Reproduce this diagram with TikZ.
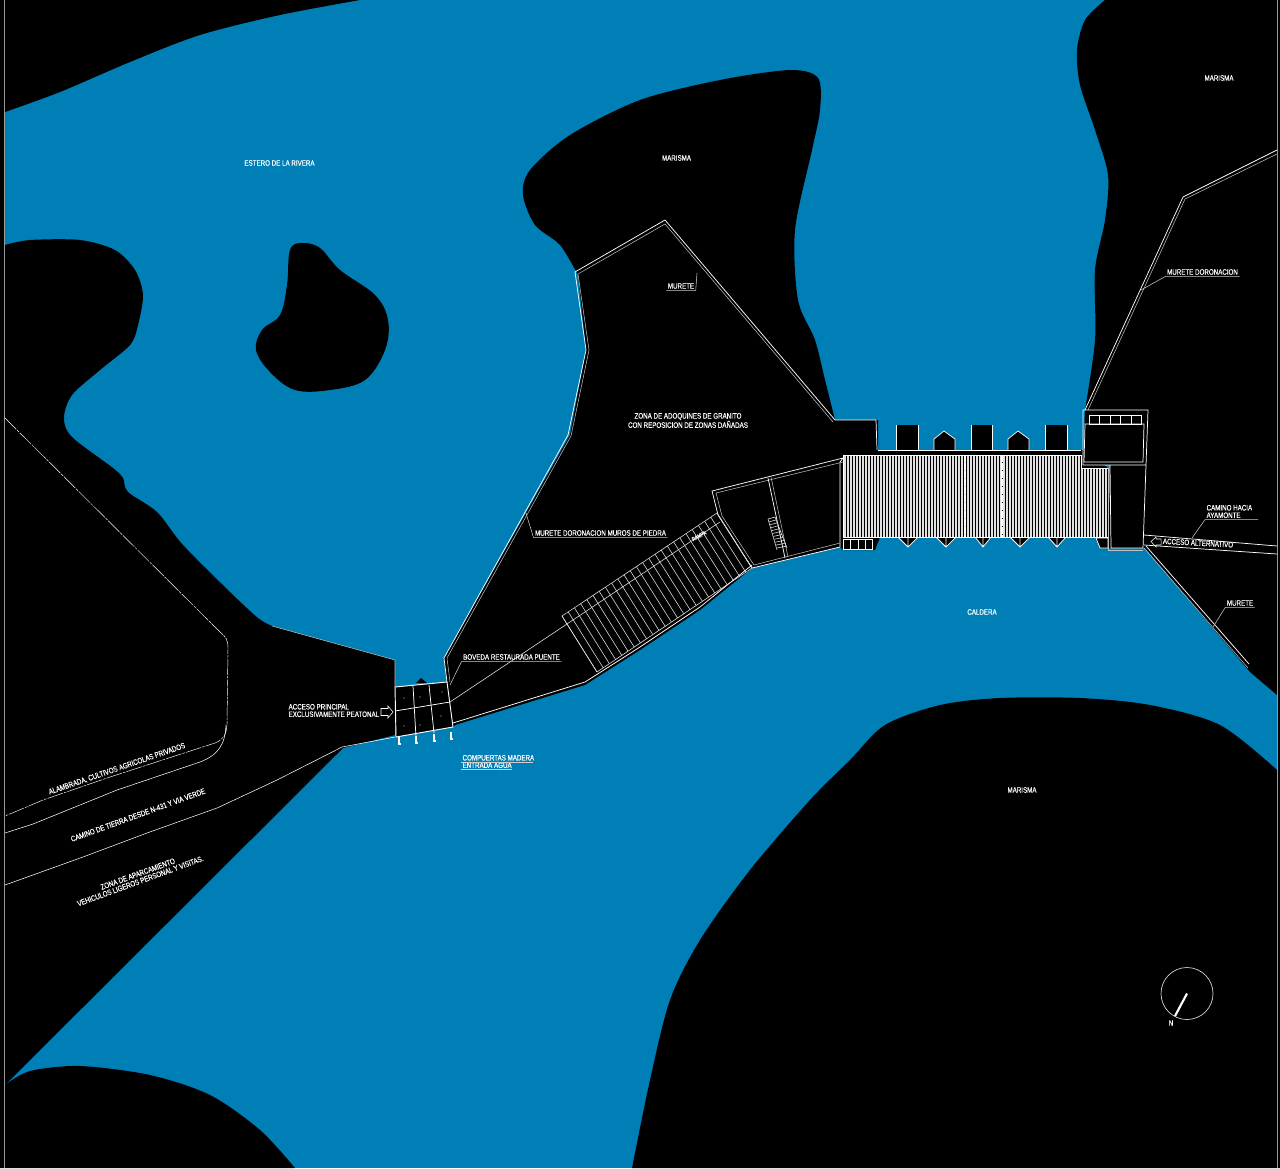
\documentclass[tikz,border=0pt]{standalone}
\usepackage{fontspec}
\usetikzlibrary{calc}
\newfontfamily\cadfont[FakeStretch=0.79,FakeBold=0.3]{Liberation Sans}
\definecolor{ria}{HTML}{007FB7}
\tikzset{
	land/.style={fill=black},
	wall/.style={draw=white,line width=0.55pt},
	thinwall/.style={draw=white!75!black,line width=0.4pt},
	leader/.style={draw=white!80!black,line width=0.4pt},
	cad/.style={text=white,font=\cadfont\fontsize{5.9}{6}\selectfont,inner sep=1pt,align=center},
	slat/.style={draw=white!88!black,line width=1.05pt},
	rung/.style={draw=white!85!black,line width=0.45pt},
}
\begin{document}
\begin{tikzpicture}[x=0.75pt,y=-0.75pt]
\useasboundingbox (0,0) rectangle (1280,1168);
\fill[black] (0,0) rectangle (1280,1168);
\fill[ria] (5,0) rectangle (1277,1168);
% land
\fill[land] plot[smooth,tension=.5] coordinates {(5,112) (60,92) (130,62) (200,35) (280,15) (360,0)} -- (0,0) -- (0,112) -- cycle;
\fill[land] plot[smooth,tension=.5] coordinates {(5,245) (30,240) (80,240) (115,250) (135,270) (143,295) (138,325) (130,345) (100,370) (72,395) (64,418) (72,437) (113,468) (123,478) (128,492) (157,512) (183,545) (230,592) (258,618) (272,626)} -- (395,660) -- (395,735) -- (343,748) -- (5,1085) -- cycle;
\fill[land] plot[smooth,tension=.5] coordinates {(5,1085) (30,1071) (80,1066) (150,1075) (210,1095) (260,1130) (295,1168)} -- (0,1168) -- (0,1085) -- cycle;
\fill[land] plot[smooth,tension=.5] coordinates {(1105,0) (1085,20) (1077,50) (1080,85) (1095,130) (1108,175) (1105,220) (1095,270) (1095,340) (1085,410)} -- (1083,465) -- (1110,465) -- (1110,548) -- (1145,548) -- (1250,672) -- (1277,695) -- (1280,695) -- (1280,0) -- cycle;
\fill[land] plot[smooth,tension=.5] coordinates {(632,1168) (650,1080) (670,1000) (700,940) (750,870) (810,800) (850,760) (885,725) (940,705) (1000,698) (1080,698) (1150,705) (1220,725) (1277,770)} -- (1280,770) -- (1280,1168) -- cycle;
\fill[land] plot[smooth cycle,tension=.6] coordinates {(290,250) (302,243) (320,248) (340,270) (375,295) (388,320) (385,350) (365,380) (330,390) (295,390) (270,372) (256,350) (262,330) (280,315) (287,285)};
\fill[land] (447,682) -- (444,658) -- (570,435) -- (586,350) -- (578,275) -- plot[smooth,tension=.5] coordinates {(578,275) (560,245) (535,225) (523,195) (530,170) (570,135) (640,100) (720,80) (790,70) (818,78) (820,110) (812,150) (795,230) (798,300) (815,340) (825,380) (835,420)} -- (878,420) -- (878,450) -- (896,450) -- (896,425) -- (918,425) -- (918,450) -- (934,450) -- (934,439) -- (944,431) -- (955,439) -- (955,450) -- (971,450) -- (971,425) -- (992,425) -- (992,450) -- (1008,450) -- (1008,439) -- (1018,431) -- (1029,439) -- (1029,450) -- (1045,450) -- (1045,425) -- (1067,425) -- (1067,450) -- (1083,450) -- (1108,468) -- (1112,548) -- (1100,548) -- (1095,537) -- (1066,537) -- (1057,546) -- (1048,537) -- (1029,537) -- (1020,547) -- (1010,537) -- (991,537) -- (983,546) -- (975,537) -- (956,537) -- (946,547) -- (936,537) -- (918,537) -- (908,547) -- (898,537) -- (880,537) -- (875,550) -- (843,550) -- (840,547) -- (752,568) -- (700,610) -- (640,650) -- (585,685) -- (455,725) -- (453,727) -- cycle;
\draw[white!60!black,line width=0.8pt] (4.5,0) -- (4.5,1168);
\draw[white!60!black,line width=0.8pt] (1277.5,0) -- (1277.5,1168);
% road edges
\draw[wall,line width=0.35pt,dash pattern=on 12pt off 0.8pt on 2pt off 0.8pt] (5,418) -- (220,632) .. controls (226,637) and (228,640) .. (228,648) -- (227,725) .. controls (226,735) and (224,739) .. (215,743) -- (110,777) -- (43,800) -- (5,816);
\draw[wall,line width=0.4pt] (5,833) -- (33,824) -- (117,790) -- (200,762) .. controls (218,755) and (225,745) .. (226,725);
\draw[wall,line width=0.4pt] (5,885) -- (83,857) -- (147,833) -- (217,808) -- (277,780) -- (342,747) -- (395,737);
\draw[thinwall] (272,626) -- (395,660) -- (395,687);
% murete walls
\draw[wall] (447,682) -- (444,658) -- (568,435) -- (586,350) -- (575,272) -- (665,220) -- (835,420) -- (876,420) -- (877,450);
\draw[thinwall] (450,682) -- (447,658) -- (571,436) -- (589,350) -- (578,274) -- (665,224) -- (833,422);
\draw[wall] (1085,410) -- (1183,197) -- (1277,150);
\draw[thinwall] (1088,410) -- (1185,199) -- (1277,154);
\draw[wall] (1146,546) -- (1249,664);
\draw[thinwall] (1144,548) -- (1248,668);
\draw[wall] (1144,535) -- (1277,546);
\draw[wall] (1144,545) -- (1277,554);
% gate blocks on the deck
\draw[wall] (878,450) -- (1081,450);
\draw[wall] (896,450) -- (896,425) (918,425) -- (918,450);
\draw[wall] (934,450) -- (934,439) -- (944,431) -- (955,439) -- (955,450);
\draw[wall] (971,450) -- (971,425) (992,425) -- (992,450);
\draw[wall] (1008,450) -- (1008,439) -- (1018,431) -- (1029,439) -- (1029,450);
\draw[wall] (1045,450) -- (1045,425) (1067,425) -- (1067,450);
% deck
\foreach \x in {845,848,...,1079}
	\draw[slat] (\x,455) -- (\x,537);
\foreach \x in {1082,1085,...,1107}
	\draw[slat] (\x,469) -- (\x,537);
\foreach \x in {965,1002}
	\draw[white,line width=1.6pt,dash pattern=on 5pt off 1pt] (\x,455) -- (\x,537);
\draw[wall] (843,455) -- (1081,455) -- (1081,468) -- (1108,468) -- (1108,537) -- (843,537) -- cycle;
\foreach \x/\w in {908/10,946/10,983/8,1020/10,1057/9}
	\draw[wall] (\x-\w,537) -- (\x,547) -- (\x+\w,537) (\x,537) -- (\x,547);
\draw[wall] (843,539) rectangle (872,549);
\draw[wall] (850,539) -- (850,549) (858,539) -- (858,549) (865,539) -- (865,549);
\draw[wall] (1096,538) -- (1100,548) -- (1108,548) -- (1108,538) -- cycle;
% pump house
\draw[wall] (1083,410) -- (1148,410) -- (1146,465) -- (1083,465) -- cycle;
\draw[wall] (1085,424) -- (1144,424) -- (1143,462) -- (1084,462) -- cycle;
\draw[wall] (1089,415) rectangle (1141,424);
\foreach \x in {1099,1110,1120,1131}
	\draw[wall] (\x,415) -- (\x,424);
\draw[wall] (1110,465) -- (1111,548) -- (1143,548) -- (1146,465);
\draw[thinwall] (1108,468) -- (1108,550) -- (1143,550);
% middle hall
\draw[wall] (843,458) -- (712,491) -- (718,515) -- (752,568) -- (840,547) -- (840,462) -- cycle;
\draw[thinwall] (843,462) -- (716,493) -- (722,516) -- (754,565) -- (840,543);
\draw[wall] (768,478) -- (785,558);
\draw[thinwall] (771,477) -- (788,557);
\foreach \t in {0,0.1,...,1.01}
	\draw[rung] ($(768,519)!\t!(777,548)$) -- ($(775,517)!\t!(787,546)$);
\draw[rung] (768,519) -- (777,550) (775,517) -- (787,548);
% ramp
\coordinate (rampA) at (562,616);
\coordinate (rampB) at (717,513);
\coordinate (rampC) at (752,568);
\coordinate (rampD) at (597,672);
\foreach \t in {0,0.04,...,1.01}
	\draw[rung] ($(rampA)!\t!(rampB)$) -- ($(rampD)!\t!(rampC)$);
\draw[rung] (rampA) -- (rampB) -- (rampC) -- (rampD) -- cycle;
\draw[rung] (450,702) -- (720,522);
\draw[wall] (453,723) -- (585,682) -- (640,647) -- (700,607) -- (752,565);
% bridge
\fill[land] (395,687) -- (447,682) -- (453,727) -- (396,737) -- cycle;
\fill[land] (416,683) -- (421,678) -- (427,683) -- cycle;
\draw[wall,line width=0.7pt] (395,687) -- (447,682) -- (453,727) -- (396,737) -- cycle;
\draw[wall] (413,686) -- (416,737) (429,685) -- (434,733);
\draw[wall] (395,711) -- (450,702);
\foreach \x/\y in {399/737,416/736,434/734,451/732}
	\draw[wall,line width=0.8pt] (\x,\y) -- (\x,\y+8) (\x-1.5,\y+7) -- (\x+1.5,\y+7);
\foreach \x/\y in {404/698,404/726,420/697,420/725,442/692,441/716}
	\fill[white!80!black] (\x,\y) circle (0.6);
% arrows
\draw[wall,line width=0.4pt] (381,708.5) -- (388,708.5) -- (388,706) -- (393,712) -- (388,718) -- (388,715.5) -- (381,715.5) -- cycle;
\draw[wall,line width=0.4pt] (1161,539) -- (1156,539) -- (1156,537) -- (1151,541.5) -- (1156,547) -- (1156,545) -- (1161,545) -- cycle;
% labels
\node[cad] (lblEstero) at (279.5,163) {ESTERO DE LA RIVERA};
\node[cad] (lblMarismaA) at (676.5,158) {MARISMA};
\node[cad] (lblMarismaB) at (1219,78) {MARISMA};
\node[cad] (lblMarismaC) at (1022,790) {MARISMA};
\node[cad] (lblZona) at (688,420.5) {ZONA DE ADOQUINES DE GRANITO\\[-0.4pt]CON REPOSICION DE ZONAS DAÑADAS};
\node[cad] (lblCaldera) at (982,612) {CALDERA};
\node[cad,align=left,anchor=west] (lblAcceso) at (287,710.5) {ACCESO PRINCIPAL\\[-0.4pt]EXCLUSIVAMENTE PEATONAL};
\node[cad,align=left,anchor=west] (lblCompuertas) at (461,761.5) {COMPUERTAS MADERA\\[-0.4pt]ENTRADA AGUA};
\draw[leader] (461,762) -- (533,762) (461,769) -- (512,769);
\node[cad,align=left,anchor=west] (lblCamino) at (1205,511.5) {CAMINO HACIA\\[-0.4pt]AYAMONTE};
\node[cad] (lblMureteA) at (681,286) {MURETE};
\node[cad] (lblMureteB) at (600.5,533) {MURETE DORONACION MUROS DE PIEDRA};
\node[cad] (lblMureteC) at (1202.5,272) {MURETE DORONACION};
\node[cad] (lblMureteD) at (1240,603) {MURETE};
\node[cad] (lblBoveda) at (511.5,657) {BOVEDA RESTAURADA PUENTE};
\node[cad,rotate=-3] (lblAlterna) at (1198,543) {ACCESO ALTERNATIVO};
\node[cad,rotate=28,font=\cadfont\fontsize{4.2}{5}\selectfont] (lblRampa) at (699,536) {RAMPA};
\node[cad,rotate=19] (lblAlambrada) at (117,769) {ALAMBRADA, CULTIVOS AGRICOLAS PRIVADOS};
\node[cad,rotate=20] (lblTierra) at (138,815) {CAMINO DE TIERRA DESDE N-431 Y VIA VERDE};
\node[cad,rotate=20] (lblAparca) at (139,877.5) {ZONA DE APARCAMIENTO\\[-0.4pt]VEHICULOS LIGEROS PERSONAL Y VISITAS.};
% leaders
\coordinate (tipMureteA) at (697,273);
\coordinate (tipMureteB) at (525,510);
\coordinate (tipMureteC) at (1141,290);
\coordinate (tipMureteD) at (1213,627);
\coordinate (tipBoveda) at (450,685);
\coordinate (tipCamino) at (1192,538);
\draw[leader] (tipMureteA) -- (lblMureteA.south east) -- (lblMureteA.south west);
\draw[leader] (tipMureteB) -- (lblMureteB.south west) -- (lblMureteB.south east);
\draw[leader] (tipMureteC) -- (lblMureteC.south west) -- (lblMureteC.south east);
\draw[leader] (tipMureteD) -- (lblMureteD.south west) -- (lblMureteD.south east);
\draw[leader] (tipBoveda) -- (lblBoveda.south west) -- (lblBoveda.south east);
\draw[leader] (tipCamino) -- (lblCamino.south west) -- ($(lblCamino.south west)+(53,0)$);
% north mark
\coordinate (norte) at (1187,993.5);
\draw[white!85!black,line width=0.5pt] (norte) circle (26);
\draw[white,line width=1.6pt] (norte) -- (1175,1016);
\node[cad] (lblNorte) at (1171,1023) {N};
\end{tikzpicture}
\end{document}
